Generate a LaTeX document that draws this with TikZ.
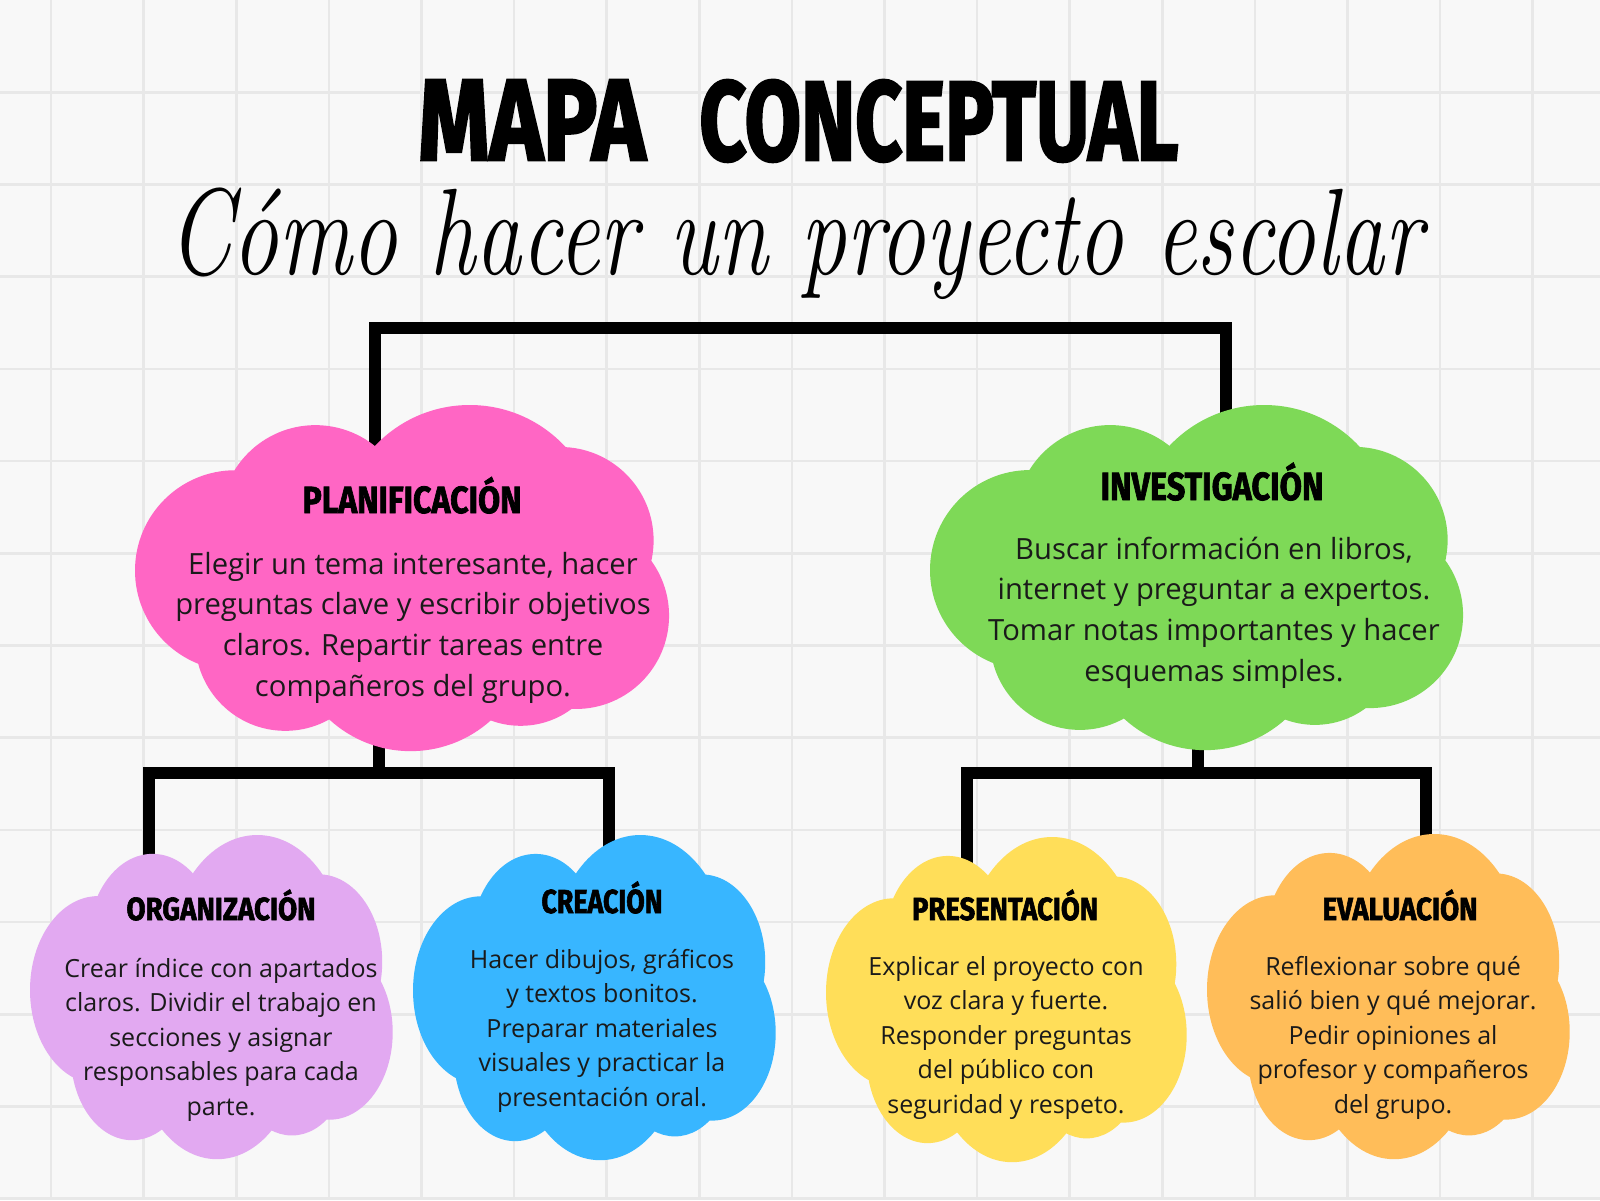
\documentclass[tikz,border=0pt]{standalone}
\usepackage{fontspec}
\usepackage{graphicx}
\newfontfamily\bdfont{Open Sans}
\newfontfamily\hdfont{Fira Sans}[BoldFeatures={FakeBold=2}]
\newfontfamily\ttlfont{Fira Sans}[BoldFeatures={FakeBold=2.5}]
\definecolor{bgc}{HTML}{F8F8F8}
\definecolor{gridc}{HTML}{E8E8E8}
\definecolor{pinkc}{HTML}{FF66C4}
\definecolor{greenc}{HTML}{7ED957}
\definecolor{lavc}{HTML}{E2A9F1}
\definecolor{bluec}{HTML}{38B6FF}
\definecolor{yelc}{HTML}{FFDE59}
\definecolor{orc}{HTML}{FFBD59}
\definecolor{txtc}{HTML}{1A1A1A}
\pgfdeclarelayer{gridlayer}
\pgfdeclarelayer{linelayer}
\pgfsetlayers{gridlayer,linelayer,main}
\newcommand{\bigtxt}{\bdfont\fontsize{14.6pt}{20.4pt}\selectfont}
\newcommand{\smtxt}{\bdfont\fontsize{12.5pt}{17.25pt}\selectfont}
\newcommand{\mkbody}[1]{\begin{tabular}[t]{@{}c@{}}#1\end{tabular}}
\newcommand{\mkhead}[3]{\resizebox{#1}{\height}{\hdfont\bfseries\fontsize{#2}{#2}\selectfont #3}}
\newcommand{\ttlword}[2]{\resizebox{#1}{40pt}{\ttlfont\bfseries\fontsize{50pt}{50pt}\selectfont #2}}
\tikzset{
  pics/cloud/.style={code={
    \fill[#1]
      (-0.323,-0.335) ellipse [x radius=0.357, y radius=0.549]
      (0.256,-0.249) ellipse [x radius=0.489, y radius=0.751]
      (-0.624,-0.046) ellipse [x radius=0.376, y radius=0.578]
      (-0.436,0.358) ellipse [x radius=0.338, y radius=0.520]
      (0.034,0.301) ellipse [x radius=0.451, y radius=0.694]
      (0.447,0.358) ellipse [x radius=0.320, y radius=0.491]
      (0.654,0.214) ellipse [x radius=0.350, y radius=0.538]
      (0.596,-0.220) ellipse [x radius=0.350, y radius=0.538]
      (0,0) ellipse [x radius=0.83, y radius=0.75];
  }},
  conn/.style={draw=black, line width=6pt, line join=miter},
  hdr/.style={inner sep=0pt, anchor=base, text=black},
  bodytxt/.style={inner sep=0pt, anchor=base, text=txtc},
  gridline/.style={draw=gridc, line width=1.3pt}
}
\begin{document}
\begin{tikzpicture}[x=0.5pt, y=-0.5pt]
\useasboundingbox (0,0) rectangle (1600,1200);
\begin{pgfonlayer}{gridlayer}
  \fill[bgc] (0,0) rectangle (1600,1200);
  \foreach \i in {0,...,16} \draw[gridline] ({51+92.6*\i},0) -- ({51+92.6*\i},1200);
  \foreach \j in {1,...,13} \draw[gridline] (0,{92.2*\j}) -- (1600,{92.2*\j});
\end{pgfonlayer}

% titles
\node[inner sep=0pt, anchor=base west] (title) at (418,160)
  {\ttlword{113.5pt}{MAPA}\hspace{27pt}\ttlword{239.5pt}{CONCEPTUAL}};
\node[inner sep=0pt, anchor=base west] (subtitle) at (168,274)
  {\resizebox{627pt}{\height}{\fontsize{61.5pt}{62pt}\selectfont\itshape Cómo hacer un proyecto escolar}};

% cloud centres
\coordinate (pk) at (401.5,578.5);
\coordinate (gr) at (1196,578);
\coordinate (lv) at (211,997.5);
\coordinate (bl) at (594,998);
\coordinate (ye) at (1006,1000);
\coordinate (og) at (1388,997);

\pic[xscale=266.5, yscale=173.5] at (pk) {cloud=pinkc};
\pic[xscale=266, yscale=173] at (gr) {cloud=greenc};
\pic[xscale=181, yscale=162.5] at (lv) {cloud=lavc};
\pic[xscale=181, yscale=163] at (bl) {cloud=bluec};
\pic[xscale=180, yscale=163] at (ye) {cloud=yelc};
\pic[xscale=181, yscale=163] at (og) {cloud=orc};

% headers
\node[hdr] (pkh) at (412,513) {\mkhead{109.5pt}{18.9pt}{PLANIFICACIÓN}};
\node[hdr] (grh) at (1212,500) {\mkhead{111.5pt}{19.6pt}{INVESTIGACIÓN}};
\node[hdr] (lvh) at (221,920) {\mkhead{94.5pt}{16pt}{ORGANIZACIÓN}};
\node[hdr] (blh) at (602,913) {\mkhead{60.5pt}{16.6pt}{CREACIÓN}};
\node[hdr] (yeh) at (1005,920) {\mkhead{93pt}{16pt}{PRESENTACIÓN}};
\node[hdr] (ogh) at (1400,920) {\mkhead{77.5pt}{16pt}{EVALUACIÓN}};

% bodies
\node[bodytxt] (pkb) at (413,574) {\bigtxt\mkbody{Elegir un tema interesante, hacer\\preguntas clave y escribir objetivos\\claros. Repartir tareas entre\\compañeros del grupo.}};
\node[bodytxt] (grb) at (1214,559) {\bigtxt\mkbody{Buscar información en libros,\\internet y preguntar a expertos.\\Tomar notas importantes y hacer\\esquemas simples.}};
\node[bodytxt] (lvb) at (221,977) {\smtxt\mkbody{Crear índice con apartados\\claros. Dividir el trabajo en\\secciones y asignar\\responsables para cada\\parte.}};
\node[bodytxt] (blb) at (602,968) {\smtxt\mkbody{Hacer dibujos, gráficos\\y textos bonitos.\\Preparar materiales\\visuales y practicar la\\presentación oral.}};
\node[bodytxt] (yeb) at (1006,975) {\smtxt\mkbody{Explicar el proyecto con\\voz clara y fuerte.\\Responder preguntas\\del público con\\seguridad y respeto.}};
\node[bodytxt] (ogb) at (1393,975) {\smtxt\mkbody{Reflexionar sobre qué\\salió bien y qué mejorar.\\Pedir opiniones al\\profesor y compañeros\\del grupo.}};

% connectors
\begin{pgfonlayer}{linelayer}
  \coordinate (t1) at (375,328);
  \coordinate (t2) at (1226,328);
  \draw[conn] (t1 |- pk) -- (t1) -- (t2) -- (t2 |- gr);
  \coordinate (l1) at (149,772.5);
  \coordinate (l2) at (609,772.5);
  \coordinate (lm) at (379,772.5);
  \draw[conn] (l1 |- lv) -- (l1) -- (l2) -- (l2 |- bl);
  \draw[conn] (lm |- pk) -- (lm);
  \coordinate (r1) at (967,772.5);
  \coordinate (r2) at (1426,772.5);
  \coordinate (rm) at (1198,772.5);
  \draw[conn] (r1 |- ye) -- (r1) -- (r2) -- (r2 |- og);
  \draw[conn] (rm |- gr) -- (rm);
\end{pgfonlayer}
\end{tikzpicture}
\end{document}
